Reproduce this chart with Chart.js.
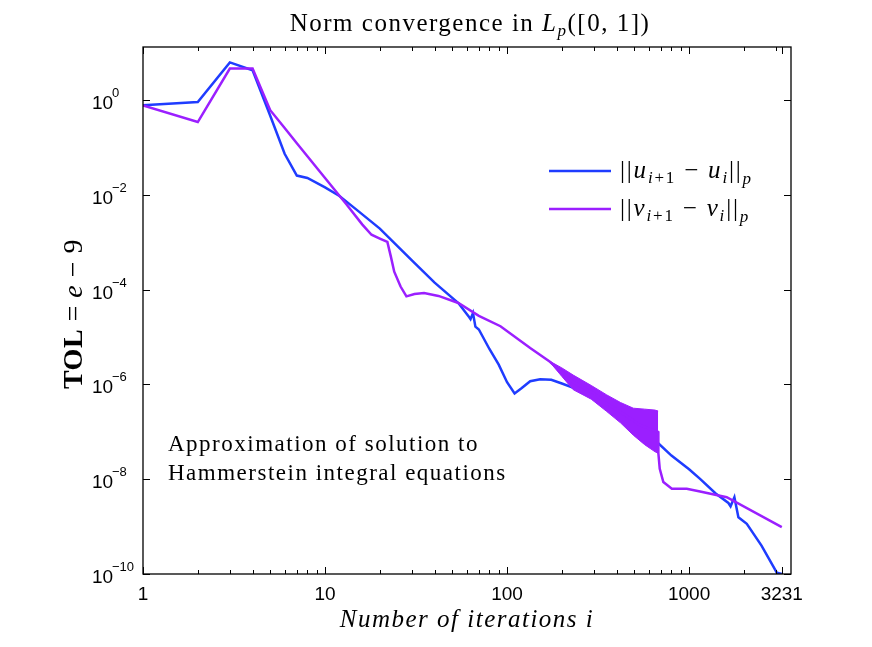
<!DOCTYPE html>
<html>
<head>
<meta charset="utf-8">
<script src="https://cdn.jsdelivr.net/npm/chart.js@4.4.1/dist/chart.umd.min.js"></script>
<style>
  html, body { margin: 0; padding: 0; background: #fff; }
  canvas { display: block; }
</style>
</head>
<body>
<canvas id="normChart" width="872" height="647"></canvas>
<script>
// iterations and norms
const uIter = [1, 2, 3, 4, 5, 6, 7, 8, 10, 12, 15, 20, 30, 40, 54, 62, 63, 65, 67, 70, 80, 90, 100, 110, 120, 134, 152, 175, 200, 250, 298, 400, 500, 664, 800, 1000, 1149, 1400, 1644, 1690, 1774, 1866, 2075, 2500, 3033, 3231];
const uNorm = [0.78, 0.92, 6.3, 4.3, 0.47, 0.074, 0.0257, 0.0229, 0.0145, 0.00955, 0.00479, 0.00195, 4.17e-4, 1.41e-4, 5.25e-5, 2.63e-5, 2.40e-5, 3.24e-5, 1.66e-5, 1.45e-5, 5.62e-6, 2.63e-6, 1.12e-6, 6.46e-7, 8.32e-7, 1.17e-6, 1.29e-6, 1.26e-6, 1.05e-6, 7.59e-7, 5.13e-7, 2.34e-7, 1.32e-7, 6.17e-8, 3.16e-8, 1.62e-8, 1.02e-8, 5.01e-9, 3.16e-9, 2.69e-9, 4.17e-9, 1.58e-9, 1.15e-9, 3.98e-10, 1.07e-10, 1.0e-10];

const vIter = [1, 2, 3, 4, 5, 6, 7, 8, 10, 13, 16, 18, 20, 22, 23, 24, 26, 28, 31, 35, 42, 54, 70, 92, 134, 172, 231, 298, 353, 436, 538, 650, 676, 678, 690, 722, 804, 971, 1149, 1610, 3231];
const vNorm = [0.78, 0.347, 4.68, 4.68, 0.617, 0.259, 0.124, 0.0656, 0.0229, 0.0066, 0.0024, 0.00145, 0.0012, 0.00102, 5.01e-4, 2.40e-4, 1.17e-4, 7.24e-5, 8.13e-5, 8.51e-5, 7.41e-5, 5.25e-5, 2.82e-5, 1.70e-5, 5.89e-6, 3.02e-6, 1.12e-6, 6.61e-7, 3.98e-7, 2.40e-7, 1.38e-7, 1.05e-7, 1.0e-7, 3.55e-8, 1.66e-8, 8.71e-9, 6.31e-9, 6.31e-9, 5.50e-9, 4.17e-9, 9.77e-10];

// envelope of the oscillating part of ||v_{i+1} - v_i||
const bandIter = [172, 200, 231, 290, 353, 420, 494, 570, 650, 676];
const bandUpper = [3.09e-6, 2.24e-6, 1.58e-6, 9.55e-7, 6.03e-7, 4.17e-7, 3.16e-7, 3.02e-7, 2.88e-7, 2.75e-7];
const bandLower = [2.95e-6, 1.48e-6, 7.76e-7, 4.90e-7, 2.69e-7, 1.55e-7, 8.51e-8, 5.37e-8, 3.80e-8, 3.55e-8];

const xTicks = [1, 10, 100, 1000, 3231];
const xTickLabels = ["1", "10", "100", "1000", "3231"];
const xMinorTicks = [2, 3, 4, 5, 6, 7, 8, 9, 20, 30, 40, 50, 60, 70, 80, 90, 200, 300, 400, 500, 600, 700, 800, 900, 2000, 3000];
const yTicks = [1, 1e-2, 1e-4, 1e-6, 1e-8, 1e-10];
const yTickExp = ["0", "\u22122", "\u22124", "\u22126", "\u22128", "\u221210"];

const blue = "#1f3cff";
const purple = "#9b1fff";
const SERIF = '"Liberation Serif", "DejaVu Serif", serif';
const SANS = '"Liberation Sans", Arial, sans-serif';

function pts(xs, ys) {
  return xs.map((x, i) => ({ x: x, y: ys[i] }));
}

// draws a run of text pieces [text, font, dy] one after the other
function drawRich(ctx, parts, x, y, align, spacing) {
  ctx.letterSpacing = (spacing || 0) + "px";
  let w = 0;
  parts.forEach(p => { ctx.font = p[1]; w += ctx.measureText(p[0]).width; });
  let cx = align === "center" ? x - w / 2 : align === "right" ? x - w : x;
  parts.forEach(p => {
    ctx.font = p[1];
    ctx.fillText(p[0], cx, y + (p[2] || 0));
    cx += ctx.measureText(p[0]).width;
  });
  ctx.letterSpacing = "0px";
}

const axesPlugin = {
  id: "matlabAxes",
  afterDraw(chart) {
    const ctx = chart.ctx;
    const a = chart.chartArea;
    const xs = chart.scales.x;
    const ys = chart.scales.y;
    ctx.save();
    ctx.strokeStyle = "#000";
    ctx.fillStyle = "#000";
    ctx.lineWidth = 1.3;
    ctx.strokeRect(a.left, a.top, a.right - a.left, a.bottom - a.top);

    // ticks inside the box
    ctx.lineWidth = 1;
    ctx.beginPath();
    xTicks.forEach(v => {
      const px = Math.round(xs.getPixelForValue(v)) + 0.5;
      ctx.moveTo(px, a.bottom); ctx.lineTo(px, a.bottom - 7);
      ctx.moveTo(px, a.top); ctx.lineTo(px, a.top + 7);
    });
    xMinorTicks.forEach(v => {
      const px = Math.round(xs.getPixelForValue(v)) + 0.5;
      ctx.moveTo(px, a.bottom); ctx.lineTo(px, a.bottom - 4);
      ctx.moveTo(px, a.top); ctx.lineTo(px, a.top + 4);
    });
    yTicks.forEach(v => {
      const py = Math.round(ys.getPixelForValue(v)) + 0.5;
      ctx.moveTo(a.left, py); ctx.lineTo(a.left + 7, py);
      ctx.moveTo(a.right, py); ctx.lineTo(a.right - 7, py);
    });
    ctx.stroke();

    // tick labels
    ctx.textBaseline = "alphabetic";
    ctx.textAlign = "center";
    ctx.font = "19px " + SANS;
    xTicks.forEach((v, i) => {
      ctx.fillText(xTickLabels[i], xs.getPixelForValue(v), a.bottom + 26);
    });
    ctx.textAlign = "left";
    yTicks.forEach((v, i) => {
      const py = ys.getPixelForValue(v);
      ctx.font = "19px " + SANS;
      ctx.fillText("10", a.left - 51, py + 9);
      ctx.font = "13px " + SANS;
      ctx.fillText(yTickExp[i], a.left - 31, py - 3);
    });

    // title
    const cx = (a.left + a.right) / 2;
    drawRich(ctx, [
      ["Norm convergence in ", "25px " + SERIF],
      ["L", "italic 25px " + SERIF],
      ["p", "italic 17px " + SERIF, 5],
      ["([0, 1])", "25px " + SERIF]
    ], cx + 3, 31, "center", 1.5);

    // x axis label
    drawRich(ctx, [["Number of iterations i", "italic 25px " + SERIF]], cx, a.bottom + 53, "center", 1.5);

    // y axis label
    ctx.save();
    ctx.translate(82, 314);
    ctx.rotate(-Math.PI / 2);
    drawRich(ctx, [
      ["TOL", "bold 28px " + SERIF],
      [" = ", "28px " + SERIF],
      ["e", "italic 28px " + SERIF],
      [" \u2212 ", "28px " + SERIF],
      ["9", "28px " + SERIF]
    ], 0, 0, "center", 0.5);
    ctx.restore();

    // legend
    const rows = [
      { color: chart.data.datasets[0].borderColor, y: 171, s: "u" },
      { color: chart.data.datasets[1].borderColor, y: 209, s: "v" }
    ];
    rows.forEach(r => {
      ctx.strokeStyle = r.color;
      ctx.lineWidth = 2.5;
      ctx.beginPath();
      ctx.moveTo(549, r.y); ctx.lineTo(611, r.y);
      ctx.stroke();
      drawRich(ctx, [
        ["||", "25px " + SERIF],
        [r.s, "italic 25px " + SERIF],
        ["i", "italic 17px " + SERIF, 5],
        ["+1", "17px " + SERIF, 5],
        [" \u2212 ", "25px " + SERIF],
        [r.s, "italic 25px " + SERIF],
        ["i", "italic 17px " + SERIF, 5],
        ["||", "25px " + SERIF],
        ["p", "italic 17px " + SERIF, 6]
      ], 620, r.y + 7, "left", 1.8);
    });

    // annotation
    drawRich(ctx, [["Approximation of solution to", "23px " + SERIF]], 168, 451, "left", 1.5);
    drawRich(ctx, [["Hammerstein integral equations", "23px " + SERIF]], 168, 480, "left", 1.5);
    ctx.restore();
  }
};

new Chart(document.getElementById("normChart"), {
  type: "line",
  data: {
    datasets: [
      { label: "u", data: pts(uIter, uNorm), borderColor: blue, order: 2 },
      { label: "v", data: pts(vIter, vNorm), borderColor: purple, order: 0 },
      { label: "v upper", data: pts(bandIter, bandUpper), borderColor: purple, borderWidth: 1, fill: false, order: 1 },
      { label: "v lower", data: pts(bandIter, bandLower), borderColor: purple, backgroundColor: purple, borderWidth: 1, fill: 2, order: 1 }
    ]
  },
  options: {
    responsive: false,
    animation: false,
    layout: { padding: { left: 143, right: 81, top: 47, bottom: 73 } },
    elements: {
      point: { radius: 0 },
      line: { borderWidth: 2.5, tension: 0, fill: false }
    },
    plugins: {
      legend: { display: false },
      tooltip: { enabled: false }
    },
    scales: {
      x: { type: "logarithmic", min: 1, max: 3630, display: false },
      y: { type: "logarithmic", min: 1e-10, max: 13.3, display: false }
    }
  },
  plugins: [axesPlugin]
});
</script>
</body>
</html>
